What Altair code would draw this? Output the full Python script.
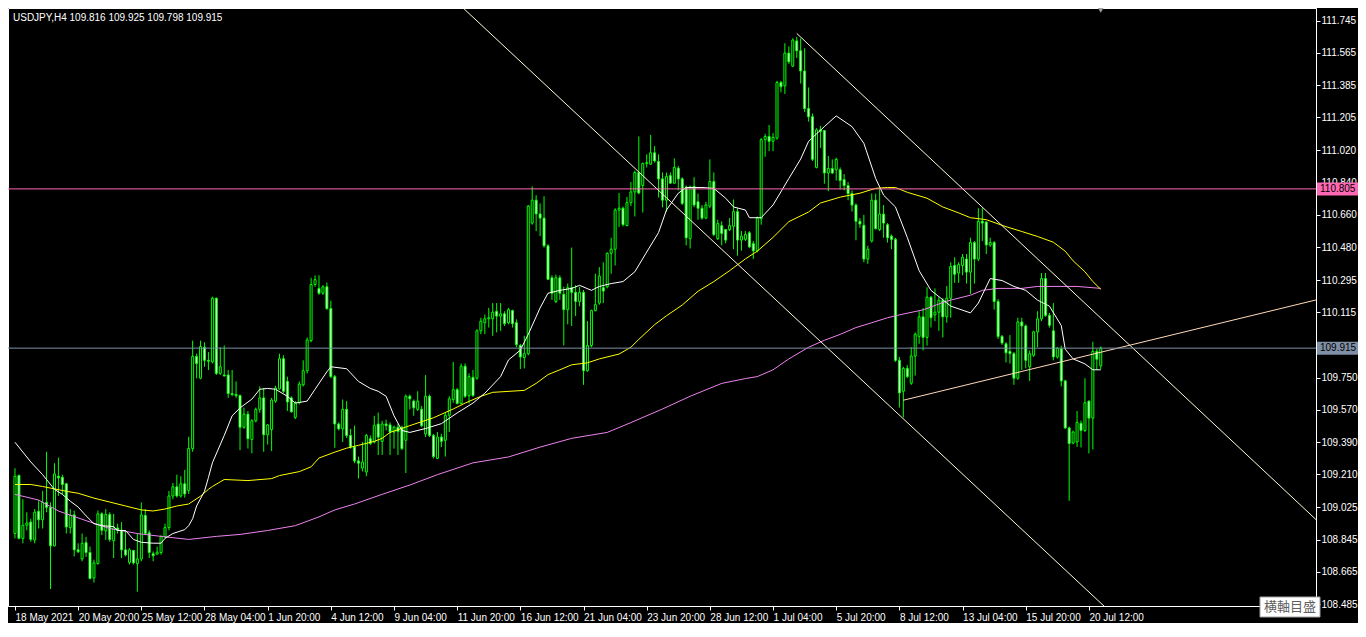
import json
import altair as alt
import pandas as pd

SYMBOL = "USDJPY,H4"

OPEN = [108.879,109.204,108.852,108.925,108.943,108.843,109.003,108.956,109.053,109.025,
        108.810,109.199,109.193,109.157,108.912,108.983,108.788,108.737,108.828,108.773,
        108.631,108.711,108.989,108.894,108.985,108.839,108.910,108.897,108.788,108.718,
        108.784,108.711,108.737,108.980,108.883,108.766,108.764,108.773,108.861,108.912,
        109.089,109.140,109.089,109.157,109.120,109.354,109.869,109.747,109.920,109.847,
        109.838,110.194,109.774,109.765,109.765,109.661,109.656,109.650,109.473,109.546,
        109.405,109.509,109.573,109.637,109.431,109.460,109.619,109.687,109.856,109.729,
        109.637,109.528,109.610,109.710,109.789,109.957,110.271,110.249,110.222,110.258,
        110.136,109.756,109.491,109.464,109.573,109.427,109.363,109.285,109.245,109.223,
        109.409,109.391,109.491,109.394,109.491,109.486,109.446,109.473,109.473,109.400,
        109.646,109.619,109.573,109.573,109.436,109.646,109.427,109.299,109.418,109.400,
        109.540,109.628,109.683,109.606,109.814,109.650,109.752,109.747,110.012,110.057,
        110.079,110.079,110.121,110.094,110.107,110.057,110.125,110.057,109.930,109.862,
        109.884,110.614,110.742,110.665,110.642,110.487,110.308,110.176,110.308,110.216,
        110.130,110.253,110.227,110.176,110.227,109.789,109.930,110.125,110.167,110.253,
        110.258,110.445,110.468,110.687,110.697,110.600,110.728,110.788,110.897,110.824,
        110.947,110.943,111.007,110.958,110.861,110.742,110.879,110.837,110.921,110.861,
        110.815,110.527,110.819,110.733,110.697,110.642,110.709,110.846,110.527,110.600,
        110.578,110.578,110.596,110.678,110.519,110.523,110.560,110.499,110.459,110.638,
        111.080,111.098,111.071,111.089,111.400,111.381,111.564,111.491,111.632,111.577,
        111.464,111.254,111.208,110.925,111.135,111.131,110.894,110.919,110.912,110.912,
        110.857,110.824,110.779,110.715,110.624,110.602,110.413,110.514,110.742,110.578,
        110.664,110.605,110.541,110.523,109.847,109.674,109.802,109.719,109.871,109.981,
        110.090,109.975,110.200,110.101,110.116,110.182,110.090,110.194,110.377,110.335,
        110.377,110.413,110.340,110.505,110.413,110.624,110.620,110.492,110.505,110.176,
        109.981,109.939,109.897,109.884,109.747,110.061,110.039,109.811,109.875,110.006,
        110.079,110.304,110.098,110.012,109.866,109.911,109.732,109.469,109.385,109.391,
        109.495,109.455,109.619,109.524,109.897,109.816]
HIGH = [109.244,109.208,109.071,108.998,108.961,109.016,109.065,109.117,109.336,109.053,
        109.272,109.303,109.208,109.162,109.016,109.007,108.824,108.879,108.861,108.806,
        108.733,109.007,108.998,109.016,108.998,108.989,108.934,108.943,108.897,108.797,
        108.788,108.879,109.053,109.016,108.897,108.779,108.806,108.870,108.934,109.117,
        109.162,109.208,109.199,109.235,109.420,109.957,109.884,109.957,109.948,109.893,
        110.203,110.198,109.920,109.930,109.793,109.793,109.729,109.656,109.583,109.564,
        109.518,109.583,109.701,109.692,109.491,109.637,109.705,109.884,109.875,109.756,
        109.646,109.619,109.729,109.847,109.975,110.308,110.322,110.322,110.267,110.282,
        110.180,109.765,109.500,109.628,109.619,109.464,109.482,109.309,109.391,109.436,
        109.427,109.537,109.555,109.509,109.515,109.500,109.482,109.491,109.482,109.656,
        109.656,109.628,109.674,109.592,109.765,109.656,109.436,109.446,109.436,109.555,
        109.646,109.838,109.692,109.829,109.829,109.774,109.793,110.021,110.085,110.103,
        110.140,110.167,110.167,110.167,110.121,110.140,110.130,110.076,109.939,109.984,
        110.715,110.819,110.770,110.724,110.764,110.496,110.322,110.326,110.322,110.258,
        110.276,110.477,110.267,110.258,110.240,110.066,110.130,110.331,110.368,110.395,
        110.450,110.532,110.697,110.782,110.706,110.760,110.843,110.907,111.098,110.952,
        110.998,111.107,111.044,110.998,110.897,110.897,110.897,110.976,110.934,110.870,
        110.824,110.824,110.870,110.779,110.715,110.733,110.970,110.897,110.633,110.624,
        110.581,110.642,110.746,110.697,110.570,110.569,110.569,110.514,110.651,111.089,
        111.113,111.162,111.117,111.409,111.409,111.619,111.601,111.646,111.655,111.646,
        111.591,111.372,111.226,111.144,111.157,111.135,110.989,110.970,110.980,110.925,
        110.888,110.843,110.797,110.724,110.642,110.660,110.487,110.779,110.779,110.806,
        110.715,110.614,110.550,110.532,109.866,109.811,109.820,109.920,110.003,110.121,
        110.140,110.255,110.207,110.249,110.200,110.194,110.262,110.395,110.423,110.395,
        110.441,110.441,110.532,110.514,110.697,110.697,110.624,110.532,110.514,110.189,
        109.988,109.948,109.988,109.893,110.085,110.085,110.048,109.902,110.012,110.121,
        110.335,110.335,110.112,110.167,109.920,109.929,109.738,109.477,109.455,109.564,
        109.510,109.747,109.623,109.951,109.911,109.925]
LOW = [108.852,108.846,108.824,108.897,108.833,108.824,108.907,108.907,108.998,108.569,
       108.806,109.089,109.098,108.879,108.879,108.751,108.770,108.724,108.748,108.623,
       108.605,108.706,108.870,108.843,108.833,108.742,108.879,108.742,108.751,108.706,
       108.706,108.554,108.724,108.870,108.742,108.724,108.760,108.760,108.852,108.897,
       109.071,109.080,109.080,109.080,109.100,109.336,109.747,109.741,109.811,109.793,
       109.829,109.765,109.765,109.756,109.637,109.646,109.637,109.345,109.464,109.354,
       109.327,109.500,109.555,109.336,109.376,109.340,109.610,109.683,109.665,109.564,
       109.555,109.519,109.601,109.701,109.774,109.948,110.258,110.213,110.213,110.130,
       109.747,109.358,109.455,109.391,109.413,109.354,109.272,109.186,109.226,109.199,
       109.373,109.382,109.318,109.318,109.455,109.318,109.354,109.318,109.345,109.217,
       109.573,109.537,109.564,109.473,109.418,109.418,109.299,109.295,109.363,109.309,
       109.446,109.610,109.601,109.601,109.637,109.606,109.643,109.738,109.993,109.993,
       110.030,109.984,110.003,110.012,110.039,110.048,110.030,109.920,109.798,109.802,
       109.875,110.605,110.569,110.541,110.477,110.295,110.185,110.167,110.185,109.930,
       110.048,110.039,110.094,110.149,109.710,109.783,109.920,110.121,110.158,110.167,
       110.249,110.331,110.377,110.592,110.596,110.596,110.709,110.651,110.775,110.673,
       110.925,110.939,110.952,110.757,110.702,110.678,110.834,110.834,110.797,110.715,
       110.490,110.472,110.702,110.633,110.633,110.636,110.697,110.541,110.519,110.490,
       110.501,110.569,110.468,110.432,110.460,110.514,110.474,110.413,110.450,110.605,
       110.985,111.016,111.016,111.080,111.345,111.336,111.504,111.486,111.537,111.394,
       111.235,111.181,110.961,110.920,111.034,110.834,110.792,110.888,110.852,110.802,
       110.797,110.742,110.678,110.518,110.587,110.395,110.386,110.505,110.578,110.569,
       110.532,110.505,110.468,109.838,109.583,109.528,109.747,109.710,109.762,109.939,
       109.902,109.929,110.030,110.066,110.012,109.975,110.057,110.085,110.280,110.280,
       110.322,110.276,110.218,110.276,110.401,110.514,110.441,110.481,110.130,109.966,
       109.933,109.835,109.829,109.710,109.738,109.793,109.802,109.732,109.866,109.920,
       110.066,110.090,110.030,109.847,109.857,109.701,109.464,109.062,109.378,109.363,
       109.360,109.446,109.327,109.349,109.793,109.798]
CLOSE = [109.199,108.852,108.925,108.938,108.846,108.998,108.956,109.053,109.025,108.810,
         109.212,109.190,109.153,108.916,108.980,108.788,108.777,108.824,108.773,108.627,
         108.715,108.989,108.897,108.985,108.846,108.910,108.897,108.788,108.760,108.788,
         108.715,108.737,108.983,108.879,108.773,108.755,108.775,108.861,108.912,109.089,
         109.140,109.089,109.157,109.100,109.354,109.869,109.829,109.924,109.847,109.842,
         110.194,109.774,109.811,109.760,109.661,109.656,109.650,109.473,109.546,109.409,
         109.509,109.573,109.637,109.431,109.486,109.625,109.692,109.856,109.674,109.614,
         109.559,109.610,109.714,109.789,109.961,110.271,110.298,110.222,110.258,110.136,
         109.756,109.491,109.464,109.573,109.427,109.363,109.285,109.272,109.278,109.427,
         109.382,109.482,109.418,109.491,109.482,109.446,109.473,109.449,109.354,109.646,
         109.632,109.582,109.619,109.482,109.646,109.427,109.309,109.418,109.394,109.540,
         109.632,109.683,109.606,109.814,109.646,109.756,109.650,110.012,110.066,110.079,
         110.085,110.116,110.094,110.107,110.052,110.130,110.052,109.935,109.866,109.884,
         110.709,110.742,110.665,110.642,110.487,110.300,110.222,110.308,110.222,110.130,
         110.253,110.227,110.176,110.227,109.789,109.930,110.125,110.158,110.318,110.234,
         110.445,110.468,110.687,110.697,110.605,110.728,110.788,110.897,110.782,110.947,
         110.952,111.007,110.961,110.861,110.742,110.874,110.837,110.925,110.861,110.724,
         110.532,110.815,110.715,110.697,110.642,110.715,110.846,110.550,110.611,110.556,
         110.519,110.600,110.678,110.519,110.541,110.550,110.481,110.459,110.642,111.080,
         111.098,111.071,111.093,111.400,111.376,111.564,111.515,111.637,111.577,111.464,
         111.254,111.208,110.970,111.135,111.126,110.894,110.919,110.894,110.970,110.852,
         110.824,110.779,110.715,110.624,110.609,110.413,110.468,110.742,110.583,110.664,
         110.614,110.532,110.523,109.847,109.665,109.802,109.756,109.871,109.993,110.090,
         109.975,110.200,110.085,110.116,110.182,110.090,110.194,110.371,110.328,110.382,
         110.423,110.340,110.505,110.413,110.624,110.614,110.492,110.505,110.176,109.981,
         109.944,109.889,109.884,109.747,110.061,110.039,109.847,109.884,110.006,110.079,
         110.304,110.098,110.043,109.866,109.915,109.732,109.469,109.382,109.446,109.500,
         109.455,109.610,109.524,109.897,109.853,109.915]

MA_FAST_BAR = [0,4,7,10,12,14,16,18,20,22,25,26,28,30,32,35,37,38,40,43,44,45,46,48,49,50,53,55,57,60,
               62,64,66,69,71,74,76,79,80,84,87,90,92,94,96,98,100,104,108,112,116,119,123,125,128,130,
               133,135,138,141,143,146,148,151,154,157,160,163,165,168,170,174,177,180,182,185,186,189,
               192,196,199,201,205,208,212,215,218,220,223,226,229,232,237,242,244,247,250,253,256,259,
               262,265,266,268,271,273,275]
MA_FAST_VAL = [109.389,109.279,109.208,109.126,109.098,109.060,109.027,108.978,108.934,108.923,
               108.918,108.896,108.896,108.846,108.830,108.825,108.825,108.852,108.879,108.901,
               108.923,108.962,109.033,109.115,109.192,109.274,109.427,109.537,109.581,109.630,
               109.685,109.690,109.685,109.646,109.608,109.619,109.685,109.783,109.811,109.800,
               109.729,109.690,109.674,109.646,109.537,109.455,109.444,109.466,109.493,109.553,
               109.608,109.663,109.756,109.849,109.904,109.992,110.140,110.222,110.238,110.249,
               110.266,110.238,110.260,110.276,110.287,110.342,110.452,110.561,110.687,110.781,
               110.813,110.813,110.808,110.753,110.704,110.687,110.644,110.644,110.715,110.863,
               110.972,111.071,111.153,111.213,111.153,111.060,110.863,110.770,110.704,110.534,
               110.348,110.238,110.150,110.112,110.167,110.304,110.293,110.260,110.238,110.183,
               110.150,110.041,109.909,109.855,109.827,109.794,109.794]

MA_MID_BAR = [0,4,7,13,16,20,24,28,32,35,38,41,44,47,49,50,53,59,65,67,72,75,77,81,84,87,91,93,95,100,
              106,111,114,118,121,129,132,135,138,141,145,148,153,156,158,162,165,169,173,177,181,185,
              188,192,196,201,204,209,214,218,221,223,226,231,235,239,242,246,251,255,259,263,266,268,
              271,273,275]
MA_MID_VAL = [109.153,109.153,109.142,109.115,109.104,109.077,109.055,109.033,109.011,109.005,
              109.016,109.033,109.044,109.088,109.126,109.142,109.181,109.175,109.186,109.203,
              109.225,109.252,109.301,109.334,109.356,109.372,109.394,109.411,109.444,109.482,
              109.526,109.575,109.608,109.646,109.668,109.679,109.718,109.767,109.794,109.822,
              109.833,109.855,109.882,109.920,109.964,110.046,110.096,110.156,110.233,110.287,
              110.348,110.414,110.457,110.534,110.622,110.676,110.726,110.759,110.781,110.808,
              110.813,110.813,110.786,110.753,110.704,110.671,110.644,110.633,110.594,110.567,
              110.539,110.507,110.457,110.403,110.342,110.287,110.244]

MA_SLOW_BAR = [0,6,11,18,24,31,37,44,51,57,64,71,77,81,86,93,100,107,116,125,133,141,150,156,164,171,
               179,185,188,192,196,201,205,209,213,217,221,224,230,236,242,245,249,255,259,269,275]
MA_SLOW_VAL = [109.098,109.066,109.005,108.951,108.907,108.879,108.863,108.846,108.863,108.874,
               108.896,108.923,108.972,109.011,109.044,109.098,109.150,109.208,109.274,109.307,
               109.362,109.411,109.444,109.499,109.575,109.646,109.718,109.745,109.756,109.794,
               109.855,109.920,109.959,109.992,110.030,110.057,110.085,110.101,110.129,110.178,
               110.211,110.238,110.249,110.249,110.260,110.260,110.249]

# trend lines (two anchor points each: bar index, price)
CH_LOW_BAR = [100, 276]
CH_LOW_VAL = [112.094, 108.470]
CH_UP_BAR = [198, 330]
CH_UP_VAL = [111.674, 108.947]
RISE_BAR = [225, 330]
RISE_VAL = [109.624, 110.187]

LEVEL_RESIST = 110.805

X_TICK_BARS = list(range(0, 273, 16))
X_TICK_LABELS = ["18 May 2021", "20 May 20:00", "25 May 12:00", "28 May 04:00", "1 Jun 20:00",
                 "4 Jun 12:00", "9 Jun 04:00", "11 Jun 20:00", "16 Jun 12:00", "21 Jun 04:00",
                 "23 Jun 20:00", "28 Jun 12:00", "1 Jul 04:00", "5 Jul 20:00", "8 Jul 12:00",
                 "13 Jul 04:00", "15 Jul 20:00", "20 Jul 12:00"]
Y_TICKS = [108.485, 108.665, 108.845, 109.025, 109.210, 109.390, 109.570, 109.750, 109.935,
           110.115, 110.295, 110.480, 110.660, 110.840, 111.020, 111.205, 111.385, 111.565, 111.745]
Y_HIDDEN_LABEL = 109.935   # tick whose label sits under the current-price box

X_DOMAIN = [-0.5, 328.25]
Y_DOMAIN = [108.474, 111.816]
W, H = 1308, 598
FONT = "Liberation Sans"

n = len(OPEN)
candles = pd.DataFrame({"bar": list(range(n)), "open": OPEN, "high": HIGH, "low": LOW, "close": CLOSE})

label_expr = f"{json.dumps(X_TICK_LABELS)}[indexof({json.dumps(X_TICK_BARS)}, datum.value)]"
x_axis = alt.Axis(values=X_TICK_BARS, labelExpr=label_expr, labelAlign="left", labelBaseline="top",
                  labelPadding=2, tickSize=4, labelOverlap=False, labelFlush=False, grid=False,
                  title=None, domainColor="white", tickColor="white", labelColor="white",
                  labelFont=FONT, labelFontSize=10)
y_label_expr = f"abs(datum.value - {Y_HIDDEN_LABEL}) < 0.0005 ? '' : format(datum.value, '.3f')"
y_axis = alt.Axis(orient="right", values=Y_TICKS, labelExpr=y_label_expr, tickSize=4, labelPadding=1,
                  labelOverlap=False, labelFlush=False, grid=False, title=None, domainColor="white",
                  tickColor="white", labelColor="white", labelFont=FONT, labelFontSize=10,
                  labelBaseline="middle")


def X(f):
    return alt.X(f"{f}:Q", scale=alt.Scale(domain=X_DOMAIN, nice=False, zero=False), axis=x_axis)


def Y(f):
    return alt.Y(f"{f}:Q", scale=alt.Scale(domain=Y_DOMAIN, nice=False, zero=False), axis=y_axis)


def line_df(bars, vals):
    return pd.DataFrame({"bar": bars, "v": vals})


base = alt.Chart(candles)
wicks = base.mark_rule(color="#00ff00", strokeWidth=1).encode(x=X("bar"), y=Y("low"), y2="high:Q")
bodies = base.mark_bar(size=2, stroke="#00ff00", strokeWidth=1).encode(
    x=X("bar"), y=Y("open"), y2="close:Q",
    fill=alt.condition("datum.close >= datum.open", alt.value("black"), alt.value("white")))

ma_slow = alt.Chart(line_df(MA_SLOW_BAR, MA_SLOW_VAL)).mark_line(color="#ee82ee", strokeWidth=1).encode(x=X("bar"), y=Y("v"))
ma_mid = alt.Chart(line_df(MA_MID_BAR, MA_MID_VAL)).mark_line(color="#ffff00", strokeWidth=1).encode(x=X("bar"), y=Y("v"))
ma_fast = alt.Chart(line_df(MA_FAST_BAR, MA_FAST_VAL)).mark_line(color="#ffffff", strokeWidth=1).encode(x=X("bar"), y=Y("v"))

ch_low = alt.Chart(line_df(CH_LOW_BAR, CH_LOW_VAL)).mark_line(color="#fff8dc", strokeWidth=1, clip=True).encode(x=X("bar"), y=Y("v"))
ch_up = alt.Chart(line_df(CH_UP_BAR, CH_UP_VAL)).mark_line(color="#fff8dc", strokeWidth=1, clip=True).encode(x=X("bar"), y=Y("v"))
rise = alt.Chart(line_df(RISE_BAR, RISE_VAL)).mark_line(color="#ffdab9", strokeWidth=1, clip=True).encode(x=X("bar"), y=Y("v"))

last_price = CLOSE[-1]
levels = pd.DataFrame({"p": [LEVEL_RESIST, last_price], "lbl": [f"{LEVEL_RESIST:.3f}", f"{last_price:.3f}"],
                       "kind": ["res", "last"]})
hlines = alt.Chart(levels).mark_rule(strokeWidth=1).encode(
    y=Y("p"), x=alt.value(0), x2=alt.value(W),
    color=alt.Color("kind:N", scale=alt.Scale(domain=["res", "last"], range=["#ff69b4", "#7f8fa6"]), legend=None))
boxes = alt.Chart(levels).mark_rule(strokeWidth=13).encode(
    y=Y("p"), x=alt.value(W + 1), x2=alt.value(W + 42),
    color=alt.Color("kind:N", scale=alt.Scale(domain=["res", "last"], range=["#ff69b4", "#ffffff"]), legend=None))
box_text = alt.Chart(levels).mark_text(align="left", baseline="middle", font=FONT, fontSize=10, color="#000000").encode(
    y=Y("p"), x=alt.value(W + 4), text="lbl:N")

header = f"{SYMBOL}  {OPEN[-1]:.3f} {HIGH[-1]:.3f} {LOW[-1]:.3f} {CLOSE[-1]:.3f}"
head = alt.Chart(pd.DataFrame({"t": [header]})).mark_text(
    align="left", baseline="middle", font=FONT, fontSize=10, color="#ffffff").encode(
    x=alt.value(5), y=alt.value(10), text="t:N")

shift_mark = alt.Chart(pd.DataFrame({"bar": [n - 1]})).mark_point(
    shape="triangle-down", filled=True, color="#a0a0a0", size=40, opacity=1).encode(x=X("bar"), y=alt.value(2))

scale_box = alt.Chart(pd.DataFrame({"t": ["横軸目盛"]})).mark_rect(fill="#ffffff", stroke="#a0a0a0", strokeWidth=1).encode(
    x=alt.value(W - 56), x2=alt.value(W + 4), y=alt.value(H - 9), y2=alt.value(H + 11))
scale_text = alt.Chart(pd.DataFrame({"t": ["横軸目盛"]})).mark_text(
    align="center", baseline="middle", font="Noto Sans CJK JP", fontSize=13, color="#606060").encode(
    x=alt.value(W - 26), y=alt.value(H + 1), text="t:N")

chart = alt.layer(
    wicks, bodies, ma_slow, ma_mid, ma_fast, ch_low, ch_up, rise, hlines, boxes, box_text, head,
    shift_mark, scale_box, scale_text
).properties(
    width=W, height=H,
    padding={"left": 0, "top": 0, "right": 42, "bottom": 17},
    autosize=alt.AutoSizeParams(type="none"),
).configure(background="black").configure_view(stroke="white", strokeWidth=1)

chart.save("out.html", embed_options={"renderer": "svg", "actions": False})
